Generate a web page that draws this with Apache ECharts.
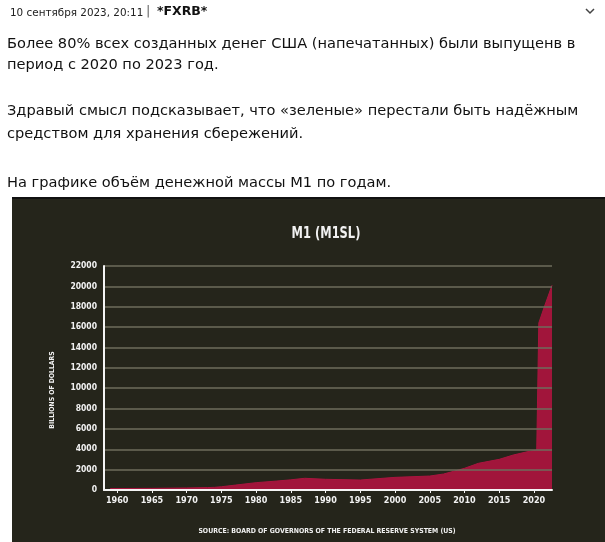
<!DOCTYPE html>
<html>
<head>
<meta charset="utf-8">
<script src="https://cdn.jsdelivr.net/npm/echarts@6/dist/echarts.min.js"></script>
<style>
html,body{margin:0;padding:0;background:#fff;}
#c{width:605px;height:542px;}
</style>
</head>
<body>
<div id="c"></div>
<script>
// ---- data ----
var years  = [1959, 1965, 1970, 1973, 1974, 1975, 1977, 1980, 1983, 1985, 1987, 1990, 1995, 2000, 2005, 2007, 2010, 2012, 2015, 2017, 2019, 2020.4, 2020.7, 2021.5, 2022.6];
var values = [140, 160, 200, 240, 260, 320, 480, 720, 880, 1000, 1150, 1050, 980, 1240, 1370, 1570, 2130, 2620, 3010, 3430, 3750, 3920, 16400, 18000, 20100];
var xTickYears = [1960, 1965, 1970, 1975, 1980, 1985, 1990, 1995, 2000, 2005, 2010, 2015, 2020];
var postHeader = "10 сентября 2023, 20:11";
var postAuthor = "*FXRB*";
var postLines = [
  "Более 80% всех созданных денег США (напечатанных) были выпущенв в",
  "период с 2020 по 2023 год.",
  "Здравый смысл подсказывает, что «зеленые» перестали быть надёжным",
  "средством для хранения сбережений.",
  "На графике объём денежной массы M1 по годам."
];
var chartTitle = "M1 (M1SL)";
var yAxisName = "BILLIONS OF DOLLARS";
var sourceText = "SOURCE: BOARD OF GOVERNORS OF THE FEDERAL RESERVE SYSTEM (US)";

var seriesData = years.map(function (y, i) { return [y, values[i]]; });

var chart = echarts.init(document.getElementById('c'));
var bodyFont = '"DejaVu Sans", sans-serif';
var chartFont = '"DejaVu Sans Condensed", "DejaVu Sans", sans-serif';
var lineYs = [44, 65, 111, 134, 183];

var graphics = [
  {type:'rect', shape:{x:12, y:198, width:593, height:344}, style:{fill:'#25251b'}, z:-10, silent:true},
  {type:'rect', shape:{x:12, y:197, width:593, height:2}, style:{fill:'#111'}, z:-9, silent:true},
  {type:'text', x:10, y:13, style:{text:postHeader, font:'10.4px ' + bodyFont, fill:'#222', verticalAlign:'middle'}},
  {type:'text', x:146, y:12, style:{text:'|', font:'13px ' + bodyFont, fill:'#666', verticalAlign:'middle'}},
  {type:'text', x:157, y:12, style:{text:postAuthor, font:'bold 12.5px ' + bodyFont, fill:'#111', verticalAlign:'middle'}},
  {type:'polyline', shape:{points:[[586,9],[590,13],[594,9]]}, style:{stroke:'#444', lineWidth:1.5, fill:null}},
  {type:'text', x:326, y:234, scaleX:0.85, style:{text:chartTitle, font:'bold 15px ' + chartFont, fill:'#f2f2f2', align:'center', verticalAlign:'middle'}},
  {type:'text', x:52, y:390, rotation:Math.PI/2, style:{text:yAxisName, font:'bold 6.8px ' + chartFont, fill:'#f2f2f2', align:'center', verticalAlign:'middle'}},
  {type:'text', x:327, y:531, style:{text:sourceText, font:'bold 6.9px ' + chartFont, fill:'#f2f2f2', align:'center', verticalAlign:'middle'}}
];
postLines.forEach(function (t, i) {
  graphics.push({type:'text', x:7, y:lineYs[i], style:{text:t, font:'14.6px ' + bodyFont, fill:'#111', verticalAlign:'middle'}});
});

chart.setOption({
  animation: false,
  backgroundColor: '#ffffff',
  graphic: graphics,
  grid: {left:104, right:53, top:266, bottom:52},
  xAxis: {
    type:'value', min:1958.1, max:2022.6, z:5,
    axisLine:{show:true, lineStyle:{color:'#f4f4f4', width:2}},
    axisTick:{show:true, customValues:xTickYears, length:3, lineStyle:{color:'#f4f4f4', width:1}},
    axisLabel:{customValues:xTickYears, color:'#f2f2f2', fontFamily:chartFont, fontWeight:'bold', fontSize:9, margin:6,
      formatter:function (v) { return String(v); }},
    splitLine:{show:false}
  },
  yAxis: {
    type:'value', min:0, max:22000, interval:2000, z:5,
    axisLine:{show:true, lineStyle:{color:'#f4f4f4', width:2}},
    axisTick:{show:false},
    axisLabel:{color:'#f2f2f2', fontFamily:chartFont, fontWeight:'bold', fontSize:8.5, margin:7,
      formatter:function (v) { return String(v); }},
    splitLine:{show:true, lineStyle:{color:'#6e6c5c', width:1.5}}
  },
  series: [{
    type:'line', data:seriesData, showSymbol:false, z:2,
    lineStyle:{color:'#a8163f', width:1},
    areaStyle:{color:'#a1153b', opacity:1}
  }]
});
</script>
</body>
</html>
